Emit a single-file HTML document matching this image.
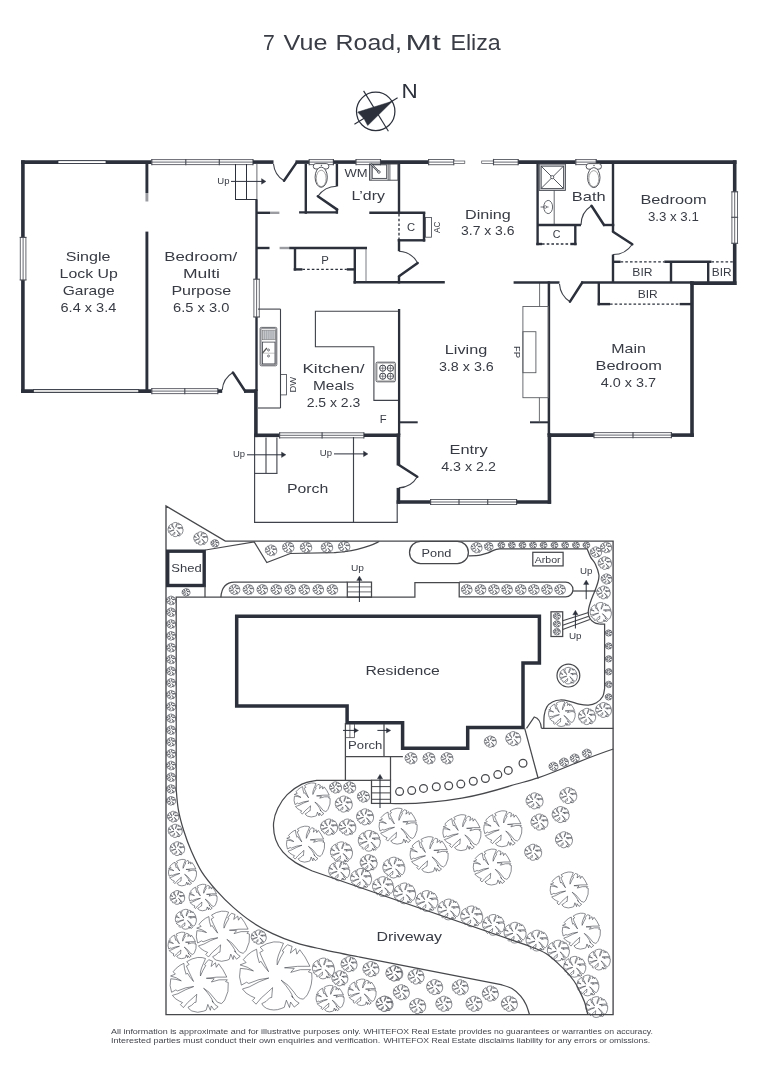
<!DOCTYPE html>
<html><head><meta charset="utf-8"><title>7 Vue Road, Mt Eliza</title>
<style>
html,body{margin:0;padding:0;background:#fff;}
body{width:764px;height:1080px;overflow:hidden;font-family:"Liberation Sans",sans-serif;}
svg{will-change:transform;display:block;font-family:"Liberation Sans",sans-serif;}
</style></head><body>
<svg width="764" height="1080" viewBox="0 0 764 1080">
<rect width="764" height="1080" fill="#fff"/>
<text x="263.0" y="49.6" font-size="22.2" fill="#3a3d46" textLength="11.8" lengthAdjust="spacingAndGlyphs" font-weight="normal">7</text>
<text x="283.6" y="49.6" font-size="22.2" fill="#3a3d46" textLength="43.8" lengthAdjust="spacingAndGlyphs" font-weight="normal">Vue</text>
<text x="335.6" y="49.6" font-size="22.2" fill="#3a3d46" textLength="66.4" lengthAdjust="spacingAndGlyphs" font-weight="normal">Road,</text>
<text x="405.6" y="49.6" font-size="22.2" fill="#3a3d46" textLength="35.2" lengthAdjust="spacingAndGlyphs" font-weight="normal">Mt</text>
<text x="450.4" y="49.6" font-size="22.2" fill="#3a3d46" textLength="50.4" lengthAdjust="spacingAndGlyphs" font-weight="normal">Eliza</text>
<circle cx="375.7" cy="111.4" r="19.2" stroke="#2b303b" stroke-width="1.25" fill="none"/>
<line x1="354.4" y1="124.3" x2="397.6" y2="97.7" stroke="#2b303b" stroke-width="1.15"/>
<line x1="363.6" y1="90.9" x2="388.4" y2="131.3" stroke="#2b303b" stroke-width="1.15"/>
<path d="M392.4 101.2 L357.7 112.1 L364.2 119.1 L367.7 125.6 Z" stroke="#2b303b" stroke-width="0.5" fill="#2b303b" />
<text x="401.6" y="97.8" font-size="20.6" fill="#2b303b" textLength="16.2" lengthAdjust="spacingAndGlyphs" font-weight="normal">N</text>
<defs>
<path id="t" d="M-0.422 -0.791Q-0.247 -0.907 -0.044 -0.936Q0.131 -0.945 0.224 -0.898Q0.160 -0.747 0.087 -0.573Q0.029 -0.427 0.049 -0.297Q0.131 -0.500 0.233 -0.660L0.189 -0.683Q0.276 -0.805 0.334 -0.858L0.465 -0.811L0.416 -0.625L0.567 -0.753L0.596 -0.596L0.677 -0.718Q0.828 -0.544 0.959 -0.259Q0.625 -0.276 0.253 -0.218L0.523 -0.201L0.427 -0.090Q0.683 -0.201 0.980 -0.166L0.916 -0.102L1.009 -0.073Q1.047 0.241 0.887 0.532Q0.828 0.619 0.770 0.654Q0.625 0.654 0.515 0.459Q0.363 0.241 0.160 0.125Q0.305 0.285 0.392 0.416Q0.465 0.517 0.485 0.613L0.451 0.561Q0.552 0.721 0.660 0.765L0.523 0.875L0.422 0.735L0.392 0.887L0.305 0.683L0.247 0.881L0.160 0.916Q-0.044 0.997 -0.247 0.910Q-0.349 0.858 -0.378 0.779Q-0.247 0.735 -0.160 0.619L-0.102 0.608Q-0.096 0.503 -0.078 0.334Q-0.160 0.416 -0.392 0.619L-0.538 0.794L-0.640 0.692L-0.567 0.619L-0.683 0.567Q-0.828 0.503 -0.916 0.372L-0.727 0.314Q-0.451 0.154 -0.183 0.067Q-0.451 0.081 -0.741 0.218L-0.799 0.183L-0.945 0.265Q-1.032 0.038 -0.974 -0.201Q-0.799 -0.195 -0.610 -0.131Q-0.770 -0.253 -0.980 -0.297L-0.814 -0.363L-0.892 -0.442Q-0.799 -0.573 -0.654 -0.666L-0.523 -0.733Q-0.515 -0.544 -0.445 -0.355L-0.404 -0.398Q-0.305 -0.238 -0.189 -0.108Q-0.276 -0.297 -0.340 -0.427Q-0.407 -0.573 -0.433 -0.642L-0.340 -0.695 Z" fill="#fff" stroke="#3d4048" stroke-width="0.6" vector-effect="non-scaling-stroke" stroke-linejoin="round"/>
</defs>
<use href="#t" transform="translate(234.5 589.5) scale(5.3)"/>
<use href="#t" transform="translate(248.4 589.5) scale(5.3)"/>
<use href="#t" transform="translate(262.2 589.5) scale(5.3)"/>
<use href="#t" transform="translate(276.2 589.5) scale(5.3)"/>
<use href="#t" transform="translate(290.1 589.5) scale(5.3)"/>
<use href="#t" transform="translate(304.2 589.5) scale(5.3)"/>
<use href="#t" transform="translate(318.2 589.5) scale(5.3)"/>
<use href="#t" transform="translate(332.3 589.5) scale(5.3)"/>
<use href="#t" transform="translate(466.7 589.5) scale(5.3)"/>
<use href="#t" transform="translate(480.5 589.5) scale(5.3)"/>
<use href="#t" transform="translate(493.9 589.5) scale(5.3)"/>
<use href="#t" transform="translate(507.0 589.5) scale(5.3)"/>
<use href="#t" transform="translate(520.7 589.5) scale(5.3)"/>
<use href="#t" transform="translate(533.8 589.5) scale(5.3)"/>
<use href="#t" transform="translate(546.9 589.5) scale(5.3)"/>
<use href="#t" transform="translate(560.0 589.5) scale(5.3)"/>
<use href="#t" transform="translate(476.5 547.6) scale(5.5)"/>
<use href="#t" transform="translate(488.7 546.5) scale(4.3)"/>
<use href="#t" transform="translate(501.3 545.1) scale(3.4)"/>
<use href="#t" transform="translate(511.8 545.1) scale(3.4)"/>
<use href="#t" transform="translate(522.4 545.1) scale(3.4)"/>
<use href="#t" transform="translate(533.0 545.1) scale(3.4)"/>
<use href="#t" transform="translate(543.5 545.1) scale(3.4)"/>
<use href="#t" transform="translate(554.4 545.1) scale(3.4)"/>
<use href="#t" transform="translate(565.1 545.1) scale(3.4)"/>
<use href="#t" transform="translate(575.9 545.1) scale(3.4)"/>
<use href="#t" transform="translate(586.3 545.1) scale(3.4)"/>
<use href="#t" transform="translate(606.0 547.4) scale(5.6)"/>
<use href="#t" transform="translate(595.9 552.1) scale(5.6)"/>
<use href="#t" transform="translate(604.8 563.0) scale(6.7)"/>
<use href="#t" transform="translate(606.5 578.9) scale(5.4)"/>
<use href="#t" transform="translate(603.4 592.4) scale(6.8)"/>
<use href="#t" transform="translate(600.7 612.4) scale(10.6)"/>
<use href="#t" transform="translate(608.6 633.0) scale(3.4)"/>
<use href="#t" transform="translate(608.6 646.0) scale(3.4)"/>
<use href="#t" transform="translate(608.6 658.8) scale(3.4)"/>
<use href="#t" transform="translate(608.6 671.7) scale(3.4)"/>
<use href="#t" transform="translate(608.6 684.4) scale(3.4)"/>
<use href="#t" transform="translate(608.6 696.9) scale(3.4)"/>
<use href="#t" transform="translate(603.5 709.9) scale(7.9)"/>
<use href="#t" transform="translate(587.0 716.4) scale(8.6)"/>
<use href="#t" transform="translate(561.8 713.8) scale(13.3)"/>
<use href="#t" transform="translate(568.4 675.6) scale(8.8)"/>
<use href="#t" transform="translate(556.8 616.2) scale(3.5)"/>
<use href="#t" transform="translate(556.8 623.9) scale(3.5)"/>
<use href="#t" transform="translate(556.8 631.6) scale(3.5)"/>
<use href="#t" transform="translate(175.5 529.5) scale(7.5)"/>
<use href="#t" transform="translate(200.7 538.3) scale(7.0)"/>
<use href="#t" transform="translate(214.8 543.3) scale(4.0)"/>
<use href="#t" transform="translate(271.0 550.3) scale(5.7)"/>
<use href="#t" transform="translate(288.2 547.4) scale(5.7)"/>
<use href="#t" transform="translate(306.0 547.4) scale(5.7)"/>
<use href="#t" transform="translate(326.9 547.4) scale(5.7)"/>
<use href="#t" transform="translate(344.1 546.5) scale(5.7)"/>
<use href="#t" transform="translate(186.0 592.3) scale(4.0)"/>
<use href="#t" transform="translate(171.0 600.4) scale(4.6)"/>
<use href="#t" transform="translate(171.0 612.2) scale(4.6)"/>
<use href="#t" transform="translate(171.0 624.0) scale(4.6)"/>
<use href="#t" transform="translate(171.0 635.8) scale(4.6)"/>
<use href="#t" transform="translate(171.0 647.6) scale(4.6)"/>
<use href="#t" transform="translate(171.0 659.4) scale(4.6)"/>
<use href="#t" transform="translate(171.0 671.1) scale(4.6)"/>
<use href="#t" transform="translate(171.0 682.9) scale(4.6)"/>
<use href="#t" transform="translate(171.0 694.7) scale(4.6)"/>
<use href="#t" transform="translate(171.0 706.5) scale(4.6)"/>
<use href="#t" transform="translate(171.0 718.3) scale(4.6)"/>
<use href="#t" transform="translate(171.0 730.1) scale(4.6)"/>
<use href="#t" transform="translate(171.0 741.9) scale(4.6)"/>
<use href="#t" transform="translate(171.0 753.7) scale(4.6)"/>
<use href="#t" transform="translate(171.0 765.5) scale(4.6)"/>
<use href="#t" transform="translate(171.0 777.2) scale(4.6)"/>
<use href="#t" transform="translate(171.0 789.0) scale(4.6)"/>
<use href="#t" transform="translate(171.0 800.8) scale(4.6)"/>
<use href="#t" transform="translate(411.0 758.2) scale(6.0)"/>
<use href="#t" transform="translate(429.0 758.2) scale(6.0)"/>
<use href="#t" transform="translate(447.0 758.2) scale(6.0)"/>
<use href="#t" transform="translate(490.3 741.6) scale(6.0)"/>
<use href="#t" transform="translate(513.2 738.6) scale(7.5)"/>
<use href="#t" transform="translate(553.4 766.4) scale(4.5)"/>
<use href="#t" transform="translate(563.9 762.2) scale(4.5)"/>
<use href="#t" transform="translate(574.7 758.2) scale(4.5)"/>
<use href="#t" transform="translate(586.8 753.3) scale(4.5)"/>
<use href="#t" transform="translate(312.0 799.8) scale(18.0)"/>
<use href="#t" transform="translate(305.4 844.0) scale(19.0)"/>
<use href="#t" transform="translate(398.0 826.0) scale(19.0)"/>
<use href="#t" transform="translate(429.0 854.5) scale(19.0)"/>
<use href="#t" transform="translate(461.8 832.5) scale(19.0)"/>
<use href="#t" transform="translate(502.7 828.6) scale(19.0)"/>
<use href="#t" transform="translate(492.2 866.9) scale(19.0)"/>
<use href="#t" transform="translate(569.1 889.8) scale(19.0)"/>
<use href="#t" transform="translate(581.2 931.0) scale(19.0)"/>
<use href="#t" transform="translate(335.5 787.4) scale(6.0)"/>
<use href="#t" transform="translate(349.6 787.4) scale(6.0)"/>
<use href="#t" transform="translate(363.4 796.5) scale(6.0)"/>
<use href="#t" transform="translate(343.7 804.0) scale(8.5)"/>
<use href="#t" transform="translate(365.0 816.8) scale(8.5)"/>
<use href="#t" transform="translate(329.0 827.0) scale(8.5)"/>
<use href="#t" transform="translate(347.3 827.0) scale(8.5)"/>
<use href="#t" transform="translate(369.2 840.7) scale(11.0)"/>
<use href="#t" transform="translate(341.4 852.2) scale(11.0)"/>
<use href="#t" transform="translate(368.6 862.6) scale(8.5)"/>
<use href="#t" transform="translate(339.1 870.8) scale(10.5)"/>
<use href="#t" transform="translate(361.0 878.3) scale(10.5)"/>
<use href="#t" transform="translate(383.0 886.5) scale(10.5)"/>
<use href="#t" transform="translate(393.8 867.5) scale(11.0)"/>
<use href="#t" transform="translate(534.5 800.8) scale(8.5)"/>
<use href="#t" transform="translate(568.2 795.5) scale(8.5)"/>
<use href="#t" transform="translate(539.4 822.0) scale(8.5)"/>
<use href="#t" transform="translate(560.6 814.5) scale(8.5)"/>
<use href="#t" transform="translate(563.9 839.7) scale(8.5)"/>
<use href="#t" transform="translate(533.1 852.2) scale(8.5)"/>
<use href="#t" transform="translate(404.5 893.3) scale(11.0)"/>
<use href="#t" transform="translate(426.8 900.9) scale(11.0)"/>
<use href="#t" transform="translate(448.7 909.4) scale(11.0)"/>
<use href="#t" transform="translate(471.6 916.3) scale(11.0)"/>
<use href="#t" transform="translate(493.5 924.8) scale(11.0)"/>
<use href="#t" transform="translate(515.0 932.6) scale(11.0)"/>
<use href="#t" transform="translate(537.0 940.5) scale(11.0)"/>
<use href="#t" transform="translate(558.3 950.5) scale(11.0)"/>
<use href="#t" transform="translate(574.7 966.7) scale(11.0)"/>
<use href="#t" transform="translate(587.8 985.4) scale(11.0)"/>
<use href="#t" transform="translate(596.6 1007.0) scale(11.0)"/>
<use href="#t" transform="translate(599.2 959.5) scale(11.0)"/>
<use href="#t" transform="translate(394.7 973.3) scale(8.0)"/>
<use href="#t" transform="translate(416.0 976.5) scale(8.0)"/>
<use href="#t" transform="translate(401.3 992.2) scale(8.0)"/>
<use href="#t" transform="translate(434.6 987.0) scale(8.0)"/>
<use href="#t" transform="translate(460.2 987.3) scale(8.0)"/>
<use href="#t" transform="translate(490.3 993.5) scale(8.0)"/>
<use href="#t" transform="translate(385.0 1003.7) scale(8.0)"/>
<use href="#t" transform="translate(417.6 1006.0) scale(8.0)"/>
<use href="#t" transform="translate(443.8 1003.7) scale(8.0)"/>
<use href="#t" transform="translate(474.0 1003.7) scale(8.0)"/>
<use href="#t" transform="translate(509.3 1003.7) scale(8.0)"/>
<use href="#t" transform="translate(370.9 969.0) scale(8.0)"/>
<use href="#t" transform="translate(384.0 1003.7) scale(8.0)"/>
<use href="#t" transform="translate(393.8 973.3) scale(8.0)"/>
<use href="#t" transform="translate(349.0 964.1) scale(8.0)"/>
<use href="#t" transform="translate(339.8 978.2) scale(8.0)"/>
<use href="#t" transform="translate(323.4 968.4) scale(11.0)"/>
<use href="#t" transform="translate(330.0 998.5) scale(14.0)"/>
<use href="#t" transform="translate(362.0 992.2) scale(14.0)"/>
<use href="#t" transform="translate(173.1 816.6) scale(5.7)"/>
<use href="#t" transform="translate(175.2 830.8) scale(7.0)"/>
<use href="#t" transform="translate(177.3 848.6) scale(7.3)"/>
<use href="#t" transform="translate(182.4 872.5) scale(14.0)"/>
<use href="#t" transform="translate(177.3 897.4) scale(7.3)"/>
<use href="#t" transform="translate(203.0 897.4) scale(14.0)"/>
<use href="#t" transform="translate(185.8 919.2) scale(10.5)"/>
<use href="#t" transform="translate(222.7 936.0) scale(26.5)"/>
<use href="#t" transform="translate(182.0 945.3) scale(14.0)"/>
<use href="#t" transform="translate(258.7 937.0) scale(7.5)"/>
<use href="#t" transform="translate(199.0 984.6) scale(29.0)"/>
<use href="#t" transform="translate(275.4 975.6) scale(36.0)"/>
<path d="M166 1014.6 L166 506 L225.3 541.1 L613.1 541.1 L613.1 1014.6 Z" stroke="#47484c" stroke-width="1.35" fill="none" />
<path d="M205.5 550 L254.2 542 L266.8 562.5 L290.3 553.5 L334.2 552.6L334.2 552.6C336.2 552.4 342.1 552.0 346.0 551.5C349.9 551.0 353.3 550.3 357.3 549.3C361.3 548.3 366.1 547.0 369.8 545.7C373.5 544.4 377.7 542.2 379.3 541.5" stroke="#47484c" stroke-width="1.25" fill="none" />
<rect x="167.7" y="551.2" width="36.5" height="34.3" rx="0" stroke="#2b303b" stroke-width="3.4" fill="#fff"/>
<text x="171.3" y="572.0" font-size="11.6" fill="#383b44" textLength="30.4" lengthAdjust="spacingAndGlyphs" font-weight="normal">Shed</text>
<path d="M205 586 L205 597.2" stroke="#47484c" stroke-width="1.25" fill="none" />
<path d="M176.2 789 L176.2 597.2 L414.9 597.2 L414.9 582.5 L459.4 582.5" stroke="#47484c" stroke-width="1.25" fill="none" />
<path d="M220.9 597.2 C221.5 588 226 582.3 234.5 582.1 L347.3 582.1" stroke="#47484c" stroke-width="1.25" fill="none" />
<rect x="347.3" y="582.1" width="24.2" height="15.1" rx="0" stroke="#47484c" stroke-width="1.25" fill="none"/>
<line x1="347.3" y1="586.9" x2="371.5" y2="586.9" stroke="#47484c" stroke-width="0.8"/>
<line x1="347.3" y1="591.9" x2="371.5" y2="591.9" stroke="#47484c" stroke-width="0.8"/>
<line x1="359.4" y1="602.0" x2="359.4" y2="579.0" stroke="#2b303b" stroke-width="1.0"/>
<path d="M356.7 580.5 L359.4 576 L362.1 580.5 Z" stroke="#2b303b" stroke-width="0.3" fill="#2b303b" />
<text x="351.0" y="571.3" font-size="9.2" fill="#383b44" textLength="13.0" lengthAdjust="spacingAndGlyphs" font-weight="normal">Up</text>
<path d="M459.2 582.2 L459.2 596.9 L565.6 596.9 A7.35 7.35 0 0 0 565.6 582.2 L459.2 582.2" stroke="#47484c" stroke-width="1.25" fill="none" />
<line x1="573.0" y1="591.0" x2="596.0" y2="591.0" stroke="#47484c" stroke-width="1.25"/>
<line x1="586.2" y1="599.2" x2="586.2" y2="583.0" stroke="#2b303b" stroke-width="1.0"/>
<path d="M583.5 584.5 L586.2 580 L588.9 584.5 Z" stroke="#2b303b" stroke-width="0.3" fill="#2b303b" />
<text x="580.0" y="574.2" font-size="9.2" fill="#383b44" textLength="12.4" lengthAdjust="spacingAndGlyphs" font-weight="normal">Up</text>
<rect x="409.5" y="541.3" width="58.9" height="22.2" rx="11.1" stroke="#47484c" stroke-width="1.25" fill="#fff"/>
<text x="421.6" y="556.6" font-size="11.6" fill="#383b44" textLength="29.7" lengthAdjust="spacingAndGlyphs" font-weight="normal">Pond</text>
<rect x="532.8" y="552.3" width="30.3" height="13.6" rx="0" stroke="#47484c" stroke-width="1.25" fill="#fff"/>
<text x="534.8" y="562.9" font-size="8.8" fill="#383b44" textLength="25.8" lengthAdjust="spacingAndGlyphs" font-weight="normal">Arbor</text>
<path d="M468.5 555.9C470.4 555.8 476.9 555.6 480.1 555.1C483.4 554.6 485.6 553.6 488.0 552.8C490.4 552.0 492.1 550.8 494.2 550.1C496.3 549.4 499.4 549.0 500.5 548.8L587.1 548.8L587.1 548.8C587.7 550.2 589.2 554.5 590.6 557.1C592.0 559.7 594.0 561.2 595.4 564.2C596.8 567.2 598.5 571.7 598.9 574.8C599.3 577.9 598.5 580.1 597.7 583.0C596.9 585.9 595.4 589.3 594.2 592.4C593.0 595.5 591.6 598.6 590.6 601.8C589.6 604.9 588.5 608.6 588.3 611.3C588.1 613.9 588.5 615.8 589.5 617.7C590.5 619.6 592.6 621.5 594.2 622.5C595.8 623.5 597.2 623.7 598.9 624.0C600.6 624.3 603.6 624.2 604.6 624.2L604.6 688.7L604.6 688.7C604.3 690.0 604.1 694.1 602.7 696.5C601.3 698.9 598.8 701.3 596.4 702.8C594.0 704.2 591.4 705.0 588.5 705.2C585.6 705.4 582.2 704.8 579.1 704.1C576.0 703.5 572.8 702.0 569.7 701.3C566.6 700.6 563.2 699.9 560.3 700.0C557.4 700.1 554.6 700.9 552.4 702.0C550.2 703.1 548.3 704.6 546.9 706.8C545.5 709.0 544.7 711.8 544.2 715.4C543.7 719.0 543.9 726.1 543.8 728.3" stroke="#47484c" stroke-width="1.25" fill="none" />
<line x1="541.4" y1="728.3" x2="613.3" y2="728.3" stroke="#47484c" stroke-width="1.25"/>
<circle cx="568.4" cy="675.6" r="11.4" stroke="#47484c" stroke-width="1.2" fill="none"/>
<rect x="551.0" y="611.8" width="11.7" height="24.7" rx="0" stroke="#47484c" stroke-width="1.25" fill="none"/>
<line x1="562.7" y1="620.7" x2="588.5" y2="612.4" stroke="#47484c" stroke-width="1.1"/>
<line x1="562.7" y1="625.2" x2="588.8" y2="616.3" stroke="#47484c" stroke-width="1.1"/>
<line x1="562.7" y1="629.5" x2="589.8" y2="619.6" stroke="#47484c" stroke-width="1.1"/>
<line x1="575.4" y1="628.5" x2="575.4" y2="613.0" stroke="#2b303b" stroke-width="1.0"/>
<path d="M572.7 614.8 L575.4 610.2 L578.1 614.8 Z" stroke="#2b303b" stroke-width="0.3" fill="#2b303b" />
<text x="568.9" y="638.7" font-size="9.2" fill="#383b44" textLength="12.6" lengthAdjust="spacingAndGlyphs" font-weight="normal">Up</text>
<path d="M236.7 616.3 L539.4 616.3 L539.4 663 L523 663 L523 727.5 L467.7 727.5 L467.7 748.3 L402.6 748.3 L402.6 722.8 L347.1 722.8 L347.1 706 L236.7 706 Z" stroke="#2b303b" stroke-width="3.5" fill="#fff" stroke-linejoin="miter"/>
<text x="365.4" y="674.8" font-size="13.2" fill="#383b44" textLength="74.4" lengthAdjust="spacingAndGlyphs" font-weight="normal">Residence</text>
<path d="M345.4 723 L345.4 780.2 M345.4 756.6 L402.9 756.6 M384 724 L384 756.6 M390.5 756.6 L390.5 780.2" stroke="#47484c" stroke-width="1.25" fill="none" />
<text x="348.1" y="749.4" font-size="10.2" fill="#383b44" textLength="34.3" lengthAdjust="spacingAndGlyphs" font-weight="normal">Porch</text>
<path d="M349.9 724 L349.9 737.6 M354.5 724 L354.5 737.6 M345.4 737.6 L354.5 737.6" stroke="#47484c" stroke-width="0.8" fill="none" />
<line x1="343.0" y1="730.4" x2="355.0" y2="730.4" stroke="#2b303b" stroke-width="1.0"/>
<path d="M354.2 727.9 L358.6 730.4 L354.2 732.9 Z" stroke="#2b303b" stroke-width="0.3" fill="#2b303b" />
<line x1="377.4" y1="730.4" x2="387.0" y2="730.4" stroke="#2b303b" stroke-width="1.0"/>
<path d="M386.4 727.9 L390.8 730.4 L386.4 732.9 Z" stroke="#2b303b" stroke-width="0.3" fill="#2b303b" />
<rect x="371.5" y="780.2" width="19.0" height="23.2" rx="0" stroke="#47484c" stroke-width="1.25" fill="#fff"/>
<line x1="371.5" y1="786.6" x2="390.5" y2="786.6" stroke="#47484c" stroke-width="1.0"/>
<line x1="371.5" y1="792.9" x2="390.5" y2="792.9" stroke="#47484c" stroke-width="1.0"/>
<line x1="371.5" y1="799.3" x2="390.5" y2="799.3" stroke="#47484c" stroke-width="1.0"/>
<line x1="380.0" y1="808.0" x2="380.0" y2="777.0" stroke="#2b303b" stroke-width="1.0"/>
<path d="M377.3 778.8 L380 774.3 L382.7 778.8 Z" stroke="#2b303b" stroke-width="0.3" fill="#2b303b" />
<path d="M524.7 728.3 L538.2 778.5" stroke="#47484c" stroke-width="1.25" fill="none" />
<path d="M526.5 728.3 L534.3 717 Q540.5 718.5 541.4 728.3" stroke="#47484c" stroke-width="1.25" fill="none" />
<path d="M390.5 803.5 C420 804.5 440 802 461.8 798.2 C480 795 497 790 510.9 785.7 C520 783 530 780.5 538 777.9 C552 773 565 767.5 576.3 762.8 C590 757.3 602 752.8 613.3 749" stroke="#47484c" stroke-width="1.25" fill="none" />
<path d="M371.5 780.3 L316.5 780.3L316.5 780.3C314.1 780.9 306.8 781.7 301.9 784.1C297.0 786.5 291.2 790.6 287.2 794.6C283.2 798.6 280.1 803.5 277.8 808.2C275.5 812.9 274.0 817.6 273.6 822.8C273.2 828.0 274.1 834.7 275.7 839.6C277.3 844.5 279.7 848.3 283.0 852.1C286.3 855.9 290.7 859.5 295.6 862.6C300.5 865.8 309.6 869.6 312.4 871.0L527.3 945.4L527.3 945.4C530.4 946.8 540.0 949.7 546.0 953.5C552.0 957.3 558.5 963.8 563.2 968.4C567.9 973.0 571.3 977.2 574.0 981.0C576.7 984.8 577.9 987.8 579.6 991.3C581.4 994.8 583.1 998.1 584.5 1002.0C585.9 1005.9 587.2 1012.5 587.8 1014.6" stroke="#47484c" stroke-width="1.25" fill="none" />
<path d="M176.2 789.0C176.5 792.4 177.1 802.4 178.3 809.3C179.5 816.2 181.4 823.2 183.6 830.2C185.8 837.2 188.3 844.2 191.4 851.2C194.5 858.2 197.8 865.6 201.9 872.1C206.1 878.6 211.1 884.5 216.3 890.4C221.5 896.3 227.4 902.2 233.3 907.4C239.2 912.6 245.0 917.4 251.6 921.8C258.1 926.2 265.2 930.1 272.6 933.6C280.0 937.1 287.8 940.2 296.1 942.8C304.4 945.4 311.7 946.9 322.3 949.3C332.9 951.7 353.7 955.9 360.0 957.2L501 984.7L501.0 984.7C502.8 985.3 508.7 986.6 512.0 988.5C515.3 990.4 518.4 993.5 520.7 996.2C523.0 998.9 524.5 1001.4 526.0 1004.5C527.5 1007.6 528.9 1012.9 529.5 1014.6" stroke="#47484c" stroke-width="1.25" fill="none" />
<text x="376.4" y="941.3" font-size="13.2" fill="#383b44" textLength="65.6" lengthAdjust="spacingAndGlyphs" font-weight="normal">Driveway</text>
<circle cx="399.6" cy="791.6" r="3.9" stroke="#47484c" stroke-width="1.25" fill="#fff"/>
<circle cx="411.7" cy="790.6" r="3.9" stroke="#47484c" stroke-width="1.25" fill="#fff"/>
<circle cx="423.5" cy="788.4" r="3.9" stroke="#47484c" stroke-width="1.25" fill="#fff"/>
<circle cx="436.3" cy="786.7" r="3.9" stroke="#47484c" stroke-width="1.25" fill="#fff"/>
<circle cx="448.7" cy="785.7" r="3.9" stroke="#47484c" stroke-width="1.25" fill="#fff"/>
<circle cx="460.8" cy="784.1" r="3.9" stroke="#47484c" stroke-width="1.25" fill="#fff"/>
<circle cx="473.3" cy="781.2" r="3.9" stroke="#47484c" stroke-width="1.25" fill="#fff"/>
<circle cx="485.4" cy="778.5" r="3.9" stroke="#47484c" stroke-width="1.25" fill="#fff"/>
<circle cx="497.8" cy="774.6" r="3.9" stroke="#47484c" stroke-width="1.25" fill="#fff"/>
<circle cx="508.3" cy="770.4" r="3.9" stroke="#47484c" stroke-width="1.25" fill="#fff"/>
<circle cx="523.0" cy="763.2" r="3.9" stroke="#47484c" stroke-width="1.25" fill="#fff"/>
<line x1="21.1" y1="162.1" x2="151.8" y2="162.1" stroke="#2b303b" stroke-width="3.6" stroke-linecap="butt"/>
<line x1="22.9" y1="160.3" x2="22.9" y2="392.9" stroke="#2b303b" stroke-width="3.6" stroke-linecap="butt"/>
<line x1="21.1" y1="391.1" x2="151.8" y2="391.1" stroke="#2b303b" stroke-width="3.6" stroke-linecap="butt"/>
<rect x="58.0" y="160.7" width="48.0" height="2.8" rx="0" stroke="#2b303b" stroke-width="0.8" fill="#fff"/>
<rect x="33.5" y="389.6" width="105.2" height="3.0" rx="0" stroke="#2b303b" stroke-width="0.8" fill="#fff"/>
<line x1="33.5" y1="391.1" x2="138.7" y2="391.1" stroke="#777" stroke-width="0.5"/>
<rect x="20.3" y="237.4" width="5.6" height="42.6" fill="#fff" stroke="none"/>
<line x1="20.3" y1="237.4" x2="20.3" y2="280.0" stroke="#4a4d55" stroke-width="0.85"/>
<line x1="23.1" y1="237.4" x2="23.1" y2="280.0" stroke="#4a4d55" stroke-width="0.85"/>
<line x1="25.9" y1="237.4" x2="25.9" y2="280.0" stroke="#4a4d55" stroke-width="0.85"/>
<line x1="19.7" y1="237.4" x2="26.5" y2="237.4" stroke="#4a4d55" stroke-width="1.15"/>
<line x1="19.7" y1="280.0" x2="26.5" y2="280.0" stroke="#4a4d55" stroke-width="1.15"/>
<line x1="146.9" y1="164.0" x2="146.9" y2="193.0" stroke="#2b303b" stroke-width="2.9" stroke-linecap="butt"/>
<line x1="146.9" y1="193.0" x2="146.9" y2="201.5" stroke="#9a9ca2" stroke-width="2.9" stroke-linecap="butt"/>
<line x1="146.9" y1="231.6" x2="146.9" y2="391.0" stroke="#2b303b" stroke-width="2.9" stroke-linecap="butt"/>
<rect x="151.8" y="159.6" width="101.2" height="5.0" fill="#fff" stroke="none"/>
<line x1="151.8" y1="159.6" x2="253.0" y2="159.6" stroke="#4a4d55" stroke-width="0.85"/>
<line x1="151.8" y1="162.1" x2="253.0" y2="162.1" stroke="#4a4d55" stroke-width="0.85"/>
<line x1="151.8" y1="164.6" x2="253.0" y2="164.6" stroke="#4a4d55" stroke-width="0.85"/>
<line x1="151.8" y1="159.0" x2="151.8" y2="165.2" stroke="#4a4d55" stroke-width="1.15"/>
<line x1="253.0" y1="159.0" x2="253.0" y2="165.2" stroke="#4a4d55" stroke-width="1.15"/>
<line x1="185.8" y1="159.0" x2="185.8" y2="165.2" stroke="#4a4d55" stroke-width="1.15"/>
<line x1="219.3" y1="159.0" x2="219.3" y2="165.2" stroke="#4a4d55" stroke-width="1.15"/>
<rect x="151.8" y="388.6" width="66.0" height="5.0" fill="#fff" stroke="none"/>
<line x1="151.8" y1="388.6" x2="217.8" y2="388.6" stroke="#4a4d55" stroke-width="0.85"/>
<line x1="151.8" y1="391.1" x2="217.8" y2="391.1" stroke="#4a4d55" stroke-width="0.85"/>
<line x1="151.8" y1="393.6" x2="217.8" y2="393.6" stroke="#4a4d55" stroke-width="0.85"/>
<line x1="151.8" y1="388.0" x2="151.8" y2="394.2" stroke="#4a4d55" stroke-width="1.15"/>
<line x1="217.8" y1="388.0" x2="217.8" y2="394.2" stroke="#4a4d55" stroke-width="1.15"/>
<line x1="184.8" y1="388.0" x2="184.8" y2="394.2" stroke="#4a4d55" stroke-width="1.15"/>
<line x1="217.8" y1="391.1" x2="222.2" y2="391.1" stroke="#2b303b" stroke-width="3.6" stroke-linecap="butt"/>
<path d="M232.9 372.5 A22.5 22.5 0 0 0 222.2 390.0" stroke="#3f424a" stroke-width="1.1" fill="none" />
<line x1="245.2" y1="391.3" x2="232.9" y2="372.5" stroke="#2b303b" stroke-width="2.5" stroke-linecap="round"/>
<line x1="244.0" y1="391.1" x2="256.4" y2="391.1" stroke="#2b303b" stroke-width="3.6" stroke-linecap="butt"/>
<line x1="253.0" y1="162.1" x2="273.5" y2="162.1" stroke="#2b303b" stroke-width="3.6" stroke-linecap="butt"/>
<path d="M284.0 180.8 A22.1 22.1 0 0 1 273.5 164.0" stroke="#3f424a" stroke-width="1.1" fill="none" />
<line x1="296.5" y1="162.6" x2="284.0" y2="180.8" stroke="#2b303b" stroke-width="2.5" stroke-linecap="round"/>
<line x1="295.5" y1="162.1" x2="309.2" y2="162.1" stroke="#2b303b" stroke-width="3.6" stroke-linecap="butt"/>
<rect x="309.2" y="159.6" width="24.2" height="5.0" fill="#fff" stroke="none"/>
<line x1="309.2" y1="159.6" x2="333.4" y2="159.6" stroke="#4a4d55" stroke-width="0.85"/>
<line x1="309.2" y1="162.1" x2="333.4" y2="162.1" stroke="#4a4d55" stroke-width="0.85"/>
<line x1="309.2" y1="164.6" x2="333.4" y2="164.6" stroke="#4a4d55" stroke-width="0.85"/>
<line x1="309.2" y1="159.0" x2="309.2" y2="165.2" stroke="#4a4d55" stroke-width="1.15"/>
<line x1="333.4" y1="159.0" x2="333.4" y2="165.2" stroke="#4a4d55" stroke-width="1.15"/>
<line x1="333.4" y1="162.1" x2="356.0" y2="162.1" stroke="#2b303b" stroke-width="3.6" stroke-linecap="butt"/>
<rect x="356.0" y="159.6" width="24.5" height="5.0" fill="#fff" stroke="none"/>
<line x1="356.0" y1="159.6" x2="380.5" y2="159.6" stroke="#4a4d55" stroke-width="0.85"/>
<line x1="356.0" y1="162.1" x2="380.5" y2="162.1" stroke="#4a4d55" stroke-width="0.85"/>
<line x1="356.0" y1="164.6" x2="380.5" y2="164.6" stroke="#4a4d55" stroke-width="0.85"/>
<line x1="356.0" y1="159.0" x2="356.0" y2="165.2" stroke="#4a4d55" stroke-width="1.15"/>
<line x1="380.5" y1="159.0" x2="380.5" y2="165.2" stroke="#4a4d55" stroke-width="1.15"/>
<line x1="380.5" y1="162.1" x2="428.6" y2="162.1" stroke="#2b303b" stroke-width="3.6" stroke-linecap="butt"/>
<rect x="428.6" y="159.5" width="25.2" height="5.2" fill="#fff" stroke="none"/>
<line x1="428.6" y1="159.5" x2="453.8" y2="159.5" stroke="#4a4d55" stroke-width="0.85"/>
<line x1="428.6" y1="162.1" x2="453.8" y2="162.1" stroke="#4a4d55" stroke-width="0.85"/>
<line x1="428.6" y1="164.7" x2="453.8" y2="164.7" stroke="#4a4d55" stroke-width="0.85"/>
<line x1="428.6" y1="158.9" x2="428.6" y2="165.3" stroke="#4a4d55" stroke-width="1.15"/>
<line x1="453.8" y1="158.9" x2="453.8" y2="165.3" stroke="#4a4d55" stroke-width="1.15"/>
<rect x="453.8" y="161.0" width="11.0" height="2.6" rx="0" stroke="#4a4d55" stroke-width="0.7" fill="#fff"/>
<rect x="481.7" y="161.0" width="11.8" height="2.6" rx="0" stroke="#4a4d55" stroke-width="0.7" fill="#fff"/>
<rect x="493.5" y="159.5" width="24.7" height="5.2" fill="#fff" stroke="none"/>
<line x1="493.5" y1="159.5" x2="518.2" y2="159.5" stroke="#4a4d55" stroke-width="0.85"/>
<line x1="493.5" y1="162.1" x2="518.2" y2="162.1" stroke="#4a4d55" stroke-width="0.85"/>
<line x1="493.5" y1="164.7" x2="518.2" y2="164.7" stroke="#4a4d55" stroke-width="0.85"/>
<line x1="493.5" y1="158.9" x2="493.5" y2="165.3" stroke="#4a4d55" stroke-width="1.15"/>
<line x1="518.2" y1="158.9" x2="518.2" y2="165.3" stroke="#4a4d55" stroke-width="1.15"/>
<line x1="518.2" y1="162.1" x2="575.8" y2="162.1" stroke="#2b303b" stroke-width="3.6" stroke-linecap="butt"/>
<rect x="575.8" y="159.6" width="20.4" height="5.0" fill="#fff" stroke="none"/>
<line x1="575.8" y1="159.6" x2="596.2" y2="159.6" stroke="#4a4d55" stroke-width="0.85"/>
<line x1="575.8" y1="162.1" x2="596.2" y2="162.1" stroke="#4a4d55" stroke-width="0.85"/>
<line x1="575.8" y1="164.6" x2="596.2" y2="164.6" stroke="#4a4d55" stroke-width="0.85"/>
<line x1="575.8" y1="159.0" x2="575.8" y2="165.2" stroke="#4a4d55" stroke-width="1.15"/>
<line x1="596.2" y1="159.0" x2="596.2" y2="165.2" stroke="#4a4d55" stroke-width="1.15"/>
<line x1="596.2" y1="162.1" x2="736.5" y2="162.1" stroke="#2b303b" stroke-width="3.6" stroke-linecap="butt"/>
<line x1="734.7" y1="160.3" x2="734.7" y2="285.0" stroke="#2b303b" stroke-width="3.6" stroke-linecap="butt"/>
<rect x="731.9" y="191.8" width="5.6" height="51.5" fill="#fff" stroke="none"/>
<line x1="731.9" y1="191.8" x2="731.9" y2="243.3" stroke="#4a4d55" stroke-width="0.85"/>
<line x1="734.7" y1="191.8" x2="734.7" y2="243.3" stroke="#4a4d55" stroke-width="0.85"/>
<line x1="737.5" y1="191.8" x2="737.5" y2="243.3" stroke="#4a4d55" stroke-width="0.85"/>
<line x1="731.3" y1="191.8" x2="738.1" y2="191.8" stroke="#4a4d55" stroke-width="1.15"/>
<line x1="731.3" y1="243.3" x2="738.1" y2="243.3" stroke="#4a4d55" stroke-width="1.15"/>
<line x1="731.3" y1="217.3" x2="738.1" y2="217.3" stroke="#4a4d55" stroke-width="1.15"/>
<line x1="235.5" y1="164.0" x2="235.5" y2="199.5" stroke="#2b303b" stroke-width="1.0"/>
<line x1="246.5" y1="164.0" x2="246.5" y2="199.5" stroke="#2b303b" stroke-width="1.0"/>
<line x1="256.9" y1="164.0" x2="256.9" y2="199.5" stroke="#6a6c72" stroke-width="1.0"/>
<line x1="235.0" y1="199.5" x2="257.0" y2="199.5" stroke="#2b303b" stroke-width="1.0"/>
<line x1="231.0" y1="181.4" x2="262.0" y2="181.4" stroke="#2b303b" stroke-width="1.0"/>
<path d="M261.5 178.6 L266 181.4 L261.5 184.2 Z" stroke="#2b303b" stroke-width="0.3" fill="#2b303b" />
<text x="217.3" y="183.9" font-size="9.4" fill="#383b44" textLength="12.2" lengthAdjust="spacingAndGlyphs" font-weight="normal">Up</text>
<line x1="256.5" y1="199.3" x2="256.5" y2="391.0" stroke="#2b303b" stroke-width="2.4" stroke-linecap="butt"/>
<line x1="255.9" y1="389.4" x2="255.9" y2="437.1" stroke="#2b303b" stroke-width="3.6" stroke-linecap="butt"/>
<rect x="253.9" y="279.2" width="5.4" height="37.8" fill="#fff" stroke="none"/>
<line x1="253.9" y1="279.2" x2="253.9" y2="317.0" stroke="#4a4d55" stroke-width="0.85"/>
<line x1="256.6" y1="279.2" x2="256.6" y2="317.0" stroke="#4a4d55" stroke-width="0.85"/>
<line x1="259.3" y1="279.2" x2="259.3" y2="317.0" stroke="#4a4d55" stroke-width="0.85"/>
<line x1="253.3" y1="279.2" x2="259.9" y2="279.2" stroke="#4a4d55" stroke-width="1.15"/>
<line x1="253.3" y1="317.0" x2="259.9" y2="317.0" stroke="#4a4d55" stroke-width="1.15"/>
<line x1="256.0" y1="212.8" x2="270.0" y2="212.8" stroke="#2b303b" stroke-width="2.4" stroke-linecap="butt"/>
<line x1="270.0" y1="212.8" x2="279.4" y2="212.8" stroke="#9a9ca2" stroke-width="2.4" stroke-linecap="butt"/>
<line x1="256.0" y1="248.0" x2="269.5" y2="248.0" stroke="#2b303b" stroke-width="2.4" stroke-linecap="butt"/>
<line x1="279.6" y1="248.0" x2="289.2" y2="248.0" stroke="#9a9ca2" stroke-width="2.4" stroke-linecap="butt"/>
<line x1="289.2" y1="248.0" x2="367.0" y2="248.0" stroke="#2b303b" stroke-width="2.4" stroke-linecap="butt"/>
<line x1="305.8" y1="164.0" x2="305.8" y2="213.8" stroke="#2b303b" stroke-width="2.4" stroke-linecap="butt"/>
<line x1="299.1" y1="212.4" x2="338.0" y2="212.4" stroke="#2b303b" stroke-width="2.4" stroke-linecap="butt"/>
<line x1="336.9" y1="164.0" x2="336.9" y2="186.4" stroke="#2b303b" stroke-width="2.4" stroke-linecap="butt"/>
<line x1="336.9" y1="208.5" x2="336.9" y2="213.6" stroke="#2b303b" stroke-width="2.4" stroke-linecap="butt"/>
<path d="M317.8 196.3 A23.5 23.5 0 0 1 336.6 186.2" stroke="#3f424a" stroke-width="1.1" fill="none" />
<line x1="337.2" y1="209.6" x2="317.8" y2="196.3" stroke="#2b303b" stroke-width="2.5" stroke-linecap="round"/>
<rect x="313.3" y="163.6" width="15.6" height="5.4" rx="2.6" stroke="#3f424a" stroke-width="0.9" fill="#fff"/>
<ellipse cx="321.2" cy="177.2" rx="6.1" ry="10.1" stroke="#3f424a" stroke-width="0.9" fill="#fff"/>
<ellipse cx="321.2" cy="178.4" rx="4.9" ry="8.2" stroke="#666" stroke-width="0.6" fill="none"/>
<circle cx="321.4" cy="165.4" r="0.5" stroke="#3f424a" stroke-width="0.3" fill="#3f424a"/>
<line x1="399.0" y1="164.0" x2="399.0" y2="213.8" stroke="#2b303b" stroke-width="2.4" stroke-linecap="butt"/>
<line x1="369.3" y1="212.8" x2="425.3" y2="212.8" stroke="#2b303b" stroke-width="2.4" stroke-linecap="butt"/>
<line x1="424.0" y1="212.5" x2="424.0" y2="241.6" stroke="#2b303b" stroke-width="2.4" stroke-linecap="butt"/>
<line x1="397.7" y1="240.3" x2="425.3" y2="240.3" stroke="#2b303b" stroke-width="2.4" stroke-linecap="butt"/>
<line x1="399.0" y1="214.0" x2="399.0" y2="239.0" stroke="#2b303b" stroke-width="1.3" stroke-dasharray="2.6 2.1"/>
<line x1="399.0" y1="239.0" x2="399.0" y2="251.2" stroke="#2b303b" stroke-width="2.4" stroke-linecap="butt"/>
<path d="M417.7 263.0 A22.9 22.9 0 0 0 399.0 251.2" stroke="#3f424a" stroke-width="1.1" fill="none" />
<line x1="399.0" y1="276.3" x2="417.7" y2="263.0" stroke="#2b303b" stroke-width="2.5" stroke-linecap="round"/>
<line x1="399.0" y1="276.0" x2="399.0" y2="283.6" stroke="#2b303b" stroke-width="2.4" stroke-linecap="butt"/>
<rect x="369.5" y="164.0" width="28.5" height="16.2" rx="0" stroke="#3f424a" stroke-width="0.9" fill="none"/>
<line x1="371.0" y1="164.0" x2="371.0" y2="180.2" stroke="#3f424a" stroke-width="0.7"/>
<rect x="372.2" y="164.8" width="14.5" height="13.6" rx="0" stroke="#3f424a" stroke-width="0.9" fill="none"/>
<line x1="388.2" y1="164.0" x2="388.2" y2="180.2" stroke="#3f424a" stroke-width="0.8"/>
<line x1="389.9" y1="164.0" x2="389.9" y2="180.2" stroke="#3f424a" stroke-width="0.8"/>
<path d="M370.9 163.9 L378.4 171.5" stroke="#3d4048" stroke-width="1.9" fill="none" />
<path d="M371.3 164.3 L378 171.1" stroke="#c8cacd" stroke-width="0.8" fill="none" />
<circle cx="378.9" cy="172.0" r="1.3" stroke="#3f424a" stroke-width="0.8" fill="#fff"/>
<rect x="425.5" y="217.5" width="6.0" height="19.7" rx="0" stroke="#3f424a" stroke-width="0.8" fill="none"/>
<line x1="295.0" y1="248.0" x2="295.0" y2="270.6" stroke="#2b303b" stroke-width="2.4" stroke-linecap="butt"/>
<line x1="293.7" y1="269.4" x2="302.4" y2="269.4" stroke="#2b303b" stroke-width="2.4" stroke-linecap="butt"/>
<line x1="302.4" y1="269.4" x2="346.8" y2="269.4" stroke="#2b303b" stroke-width="1.3" stroke-dasharray="2.6 2.1"/>
<line x1="346.8" y1="269.4" x2="356.0" y2="269.4" stroke="#2b303b" stroke-width="2.4" stroke-linecap="butt"/>
<line x1="354.8" y1="248.0" x2="354.8" y2="283.6" stroke="#2b303b" stroke-width="2.4" stroke-linecap="butt"/>
<line x1="353.5" y1="282.3" x2="444.8" y2="282.3" stroke="#2b303b" stroke-width="2.4" stroke-linecap="butt"/>
<line x1="366.0" y1="248.0" x2="366.0" y2="282.3" stroke="#3f424a" stroke-width="0.7"/>
<line x1="254.1" y1="435.3" x2="279.6" y2="435.3" stroke="#2b303b" stroke-width="3.6" stroke-linecap="butt"/>
<rect x="279.6" y="432.8" width="84.3" height="5.0" fill="#fff" stroke="none"/>
<line x1="279.6" y1="432.8" x2="363.9" y2="432.8" stroke="#4a4d55" stroke-width="0.85"/>
<line x1="279.6" y1="435.3" x2="363.9" y2="435.3" stroke="#4a4d55" stroke-width="0.85"/>
<line x1="279.6" y1="437.8" x2="363.9" y2="437.8" stroke="#4a4d55" stroke-width="0.85"/>
<line x1="279.6" y1="432.2" x2="279.6" y2="438.4" stroke="#4a4d55" stroke-width="1.15"/>
<line x1="363.9" y1="432.2" x2="363.9" y2="438.4" stroke="#4a4d55" stroke-width="1.15"/>
<line x1="322.1" y1="432.2" x2="322.1" y2="438.4" stroke="#4a4d55" stroke-width="1.15"/>
<line x1="363.9" y1="435.3" x2="400.2" y2="435.3" stroke="#2b303b" stroke-width="3.6" stroke-linecap="butt"/>
<line x1="399.1" y1="309.0" x2="399.1" y2="435.0" stroke="#2b303b" stroke-width="2.3" stroke-linecap="butt"/>
<line x1="398.4" y1="433.6" x2="398.4" y2="465.4" stroke="#2b303b" stroke-width="3.6" stroke-linecap="butt"/>
<line x1="258.0" y1="309.1" x2="280.5" y2="309.1" stroke="#3f424a" stroke-width="1.1"/>
<line x1="280.5" y1="309.1" x2="280.5" y2="408.0" stroke="#3f424a" stroke-width="1.1"/>
<line x1="258.0" y1="408.0" x2="280.5" y2="408.0" stroke="#3f424a" stroke-width="1.1"/>
<rect x="260.1" y="327.4" width="16.7" height="38.4" rx="1.2" stroke="#3f424a" stroke-width="0.8" fill="#fff"/>
<rect x="261.1" y="328.4" width="14.7" height="36.4" rx="0.8" stroke="#3f424a" stroke-width="0.6" fill="none"/>
<rect x="262.3" y="330.1" width="13.0" height="9.7" rx="0" stroke="#666" stroke-width="0.5" fill="#c4c6ca"/>
<line x1="264.5" y1="330.1" x2="264.5" y2="339.8" stroke="#8d9096" stroke-width="0.5"/>
<line x1="266.6" y1="330.1" x2="266.6" y2="339.8" stroke="#8d9096" stroke-width="0.5"/>
<line x1="268.8" y1="330.1" x2="268.8" y2="339.8" stroke="#8d9096" stroke-width="0.5"/>
<line x1="271.0" y1="330.1" x2="271.0" y2="339.8" stroke="#8d9096" stroke-width="0.5"/>
<line x1="273.1" y1="330.1" x2="273.1" y2="339.8" stroke="#8d9096" stroke-width="0.5"/>
<rect x="262.5" y="342.1" width="12.5" height="21.8" rx="0" stroke="#3f424a" stroke-width="0.8" fill="none"/>
<line x1="262.5" y1="353.2" x2="275.0" y2="353.2" stroke="#888" stroke-width="0.5"/>
<path d="M262.2 353.4 L266.9 348" stroke="#555" stroke-width="1.3" fill="none" />
<circle cx="268.5" cy="350.0" r="1.0" stroke="#3f424a" stroke-width="0.7" fill="#fff"/>
<circle cx="268.5" cy="356.0" r="1.0" stroke="#3f424a" stroke-width="0.7" fill="#fff"/>
<rect x="280.6" y="374.4" width="5.8" height="20.5" rx="0" stroke="#3f424a" stroke-width="0.8" fill="none"/>
<path d="M398 311.2 L315.4 311.2 L315.4 346.8 L373.9 346.8 L373.9 400.4 L398 400.4" stroke="#3f424a" stroke-width="1.1" fill="none" />
<rect x="376.1" y="362.2" width="19.2" height="19.6" rx="1.2" stroke="#3f424a" stroke-width="0.9" fill="#fff"/>
<rect x="377.2" y="363.3" width="17.0" height="17.4" rx="0.8" stroke="#777" stroke-width="0.5" fill="none"/>
<circle cx="382.7" cy="368.2" r="3.1" stroke="#3f424a" stroke-width="1.0" fill="#fff"/>
<line x1="379.6" y1="368.2" x2="385.8" y2="368.2" stroke="#3f424a" stroke-width="0.6"/>
<line x1="382.7" y1="365.1" x2="382.7" y2="371.3" stroke="#3f424a" stroke-width="0.6"/>
<circle cx="390.4" cy="368.2" r="3.1" stroke="#3f424a" stroke-width="1.0" fill="#fff"/>
<line x1="387.3" y1="368.2" x2="393.5" y2="368.2" stroke="#3f424a" stroke-width="0.6"/>
<line x1="390.4" y1="365.1" x2="390.4" y2="371.3" stroke="#3f424a" stroke-width="0.6"/>
<circle cx="382.7" cy="376.2" r="3.1" stroke="#3f424a" stroke-width="1.0" fill="#fff"/>
<line x1="379.6" y1="376.2" x2="385.8" y2="376.2" stroke="#3f424a" stroke-width="0.6"/>
<line x1="382.7" y1="373.1" x2="382.7" y2="379.3" stroke="#3f424a" stroke-width="0.6"/>
<circle cx="390.4" cy="376.2" r="3.1" stroke="#3f424a" stroke-width="1.0" fill="#fff"/>
<line x1="387.3" y1="376.2" x2="393.5" y2="376.2" stroke="#3f424a" stroke-width="0.6"/>
<line x1="390.4" y1="373.1" x2="390.4" y2="379.3" stroke="#3f424a" stroke-width="0.6"/>
<line x1="399.0" y1="422.3" x2="417.7" y2="422.3" stroke="#2b303b" stroke-width="2.0" stroke-linecap="butt"/>
<line x1="530.0" y1="422.3" x2="549.0" y2="422.3" stroke="#2b303b" stroke-width="2.0" stroke-linecap="butt"/>
<path d="M417.3 476.8 A22.2 22.2 0 0 1 398.8 487.9" stroke="#3f424a" stroke-width="1.1" fill="none" />
<line x1="398.6" y1="464.8" x2="417.3" y2="476.8" stroke="#2b303b" stroke-width="2.5" stroke-linecap="round"/>
<line x1="398.4" y1="487.9" x2="398.4" y2="503.8" stroke="#2b303b" stroke-width="3.6" stroke-linecap="butt"/>
<line x1="396.6" y1="502.0" x2="430.6" y2="502.0" stroke="#2b303b" stroke-width="3.6" stroke-linecap="butt"/>
<rect x="430.6" y="499.5" width="86.0" height="5.0" fill="#fff" stroke="none"/>
<line x1="430.6" y1="499.5" x2="516.6" y2="499.5" stroke="#4a4d55" stroke-width="0.85"/>
<line x1="430.6" y1="502.0" x2="516.6" y2="502.0" stroke="#4a4d55" stroke-width="0.85"/>
<line x1="430.6" y1="504.5" x2="516.6" y2="504.5" stroke="#4a4d55" stroke-width="0.85"/>
<line x1="430.6" y1="498.9" x2="430.6" y2="505.1" stroke="#4a4d55" stroke-width="1.15"/>
<line x1="516.6" y1="498.9" x2="516.6" y2="505.1" stroke="#4a4d55" stroke-width="1.15"/>
<line x1="459.0" y1="498.9" x2="459.0" y2="505.1" stroke="#4a4d55" stroke-width="1.15"/>
<line x1="487.7" y1="498.9" x2="487.7" y2="505.1" stroke="#4a4d55" stroke-width="1.15"/>
<line x1="516.6" y1="502.0" x2="551.1" y2="502.0" stroke="#2b303b" stroke-width="3.6" stroke-linecap="butt"/>
<line x1="548.9" y1="281.3" x2="548.9" y2="435.0" stroke="#2b303b" stroke-width="2.5" stroke-linecap="butt"/>
<line x1="549.4" y1="433.4" x2="549.4" y2="503.8" stroke="#2b303b" stroke-width="3.6" stroke-linecap="butt"/>
<line x1="539.6" y1="282.3" x2="539.6" y2="306.6" stroke="#5a5c62" stroke-width="0.9"/>
<rect x="522.9" y="306.5" width="25.6" height="91.2" rx="0" stroke="#5a5c62" stroke-width="0.9" fill="none"/>
<rect x="522.9" y="331.7" width="13.0" height="41.0" rx="0" stroke="#5a5c62" stroke-width="0.9" fill="none"/>
<line x1="539.4" y1="397.7" x2="539.4" y2="422.4" stroke="#5a5c62" stroke-width="0.9"/>
<line x1="547.6" y1="435.1" x2="594.0" y2="435.1" stroke="#2b303b" stroke-width="3.6" stroke-linecap="butt"/>
<rect x="594.0" y="432.6" width="77.4" height="5.0" fill="#fff" stroke="none"/>
<line x1="594.0" y1="432.6" x2="671.4" y2="432.6" stroke="#4a4d55" stroke-width="0.85"/>
<line x1="594.0" y1="435.1" x2="671.4" y2="435.1" stroke="#4a4d55" stroke-width="0.85"/>
<line x1="594.0" y1="437.6" x2="671.4" y2="437.6" stroke="#4a4d55" stroke-width="0.85"/>
<line x1="594.0" y1="432.0" x2="594.0" y2="438.2" stroke="#4a4d55" stroke-width="1.15"/>
<line x1="671.4" y1="432.0" x2="671.4" y2="438.2" stroke="#4a4d55" stroke-width="1.15"/>
<line x1="633.0" y1="432.0" x2="633.0" y2="438.2" stroke="#4a4d55" stroke-width="1.15"/>
<line x1="671.4" y1="435.1" x2="693.9" y2="435.1" stroke="#2b303b" stroke-width="3.6" stroke-linecap="butt"/>
<line x1="692.0" y1="281.3" x2="692.0" y2="436.9" stroke="#2b303b" stroke-width="3.6" stroke-linecap="butt"/>
<line x1="513.6" y1="282.5" x2="559.5" y2="282.5" stroke="#2b303b" stroke-width="2.5" stroke-linecap="butt"/>
<path d="M570.0 301.7 A22.8 22.8 0 0 1 559.5 284.0" stroke="#3f424a" stroke-width="1.1" fill="none" />
<line x1="582.3" y1="282.5" x2="570.0" y2="301.7" stroke="#2b303b" stroke-width="2.5" stroke-linecap="round"/>
<line x1="581.0" y1="282.5" x2="692.0" y2="282.5" stroke="#2b303b" stroke-width="2.5" stroke-linecap="butt"/>
<line x1="690.3" y1="283.2" x2="736.5" y2="283.2" stroke="#2b303b" stroke-width="3.7" stroke-linecap="butt"/>
<line x1="537.6" y1="164.0" x2="537.6" y2="245.2" stroke="#2b303b" stroke-width="2.4" stroke-linecap="butt"/>
<line x1="537.6" y1="225.0" x2="581.0" y2="225.0" stroke="#2b303b" stroke-width="2.4" stroke-linecap="butt"/>
<path d="M591.5 205.8 A22.9 22.9 0 0 0 581.0 225.0" stroke="#3f424a" stroke-width="1.1" fill="none" />
<line x1="604.0" y1="225.0" x2="591.5" y2="205.8" stroke="#2b303b" stroke-width="2.5" stroke-linecap="round"/>
<line x1="603.0" y1="225.0" x2="614.3" y2="225.0" stroke="#2b303b" stroke-width="2.4" stroke-linecap="butt"/>
<line x1="613.0" y1="164.0" x2="613.0" y2="231.7" stroke="#2b303b" stroke-width="2.4" stroke-linecap="butt"/>
<path d="M632.3 244.2 A23.0 23.0 0 0 1 613.0 254.5" stroke="#3f424a" stroke-width="1.1" fill="none" />
<line x1="613.0" y1="231.7" x2="632.3" y2="244.2" stroke="#2b303b" stroke-width="2.5" stroke-linecap="round"/>
<line x1="613.0" y1="254.5" x2="613.0" y2="282.3" stroke="#2b303b" stroke-width="2.4" stroke-linecap="butt"/>
<line x1="575.3" y1="225.0" x2="575.3" y2="245.2" stroke="#2b303b" stroke-width="2.4" stroke-linecap="butt"/>
<line x1="536.3" y1="244.0" x2="542.0" y2="244.0" stroke="#2b303b" stroke-width="2.4" stroke-linecap="butt"/>
<line x1="570.3" y1="244.0" x2="576.6" y2="244.0" stroke="#2b303b" stroke-width="2.4" stroke-linecap="butt"/>
<line x1="542.0" y1="244.0" x2="570.3" y2="244.0" stroke="#2b303b" stroke-width="1.3" stroke-dasharray="2.6 2.1"/>
<rect x="539.2" y="164.0" width="26.3" height="26.5" rx="0" stroke="#3f424a" stroke-width="0.8" fill="#c3c5c9"/>
<rect x="541.2" y="166.2" width="22.2" height="22.2" rx="0" stroke="#3f424a" stroke-width="0.8" fill="#fff"/>
<line x1="541.2" y1="166.2" x2="563.4" y2="188.4" stroke="#3f424a" stroke-width="0.9"/>
<line x1="563.4" y1="166.2" x2="541.2" y2="188.4" stroke="#3f424a" stroke-width="0.9"/>
<circle cx="552.2" cy="177.2" r="1.6" stroke="#3f424a" stroke-width="0.8" fill="#fff"/>
<line x1="554.2" y1="190.5" x2="554.2" y2="224.0" stroke="#3f424a" stroke-width="0.8"/>
<ellipse cx="548.2" cy="207.0" rx="4.4" ry="6.6" stroke="#3f424a" stroke-width="0.8" fill="none"/>
<line x1="540.6" y1="207.0" x2="548.5" y2="207.0" stroke="#3f424a" stroke-width="0.8"/>
<circle cx="545.3" cy="207.0" r="1.3" stroke="#3f424a" stroke-width="0.6" fill="#fff"/>
<rect x="586.2" y="163.6" width="15.2" height="5.6" rx="2.6" stroke="#3f424a" stroke-width="0.9" fill="#fff"/>
<ellipse cx="593.8" cy="177.6" rx="6.2" ry="10.0" stroke="#3f424a" stroke-width="0.9" fill="#fff"/>
<ellipse cx="593.8" cy="178.7" rx="5.0" ry="8.1" stroke="#666" stroke-width="0.6" fill="none"/>
<circle cx="594.0" cy="165.5" r="0.5" stroke="#3f424a" stroke-width="0.3" fill="#3f424a"/>
<line x1="613.0" y1="261.8" x2="620.6" y2="261.8" stroke="#2b303b" stroke-width="2.4" stroke-linecap="butt"/>
<line x1="620.6" y1="261.8" x2="664.3" y2="261.8" stroke="#2b303b" stroke-width="1.3" stroke-dasharray="2.6 2.1"/>
<line x1="664.3" y1="261.8" x2="711.4" y2="261.8" stroke="#2b303b" stroke-width="2.4" stroke-linecap="butt"/>
<line x1="711.4" y1="261.8" x2="733.0" y2="261.8" stroke="#2b303b" stroke-width="1.3" stroke-dasharray="2.6 2.1"/>
<line x1="671.0" y1="261.8" x2="671.0" y2="282.3" stroke="#2b303b" stroke-width="2.4" stroke-linecap="butt"/>
<line x1="708.2" y1="261.8" x2="708.2" y2="282.3" stroke="#2b303b" stroke-width="2.4" stroke-linecap="butt"/>
<line x1="598.8" y1="282.3" x2="598.8" y2="305.3" stroke="#2b303b" stroke-width="2.4" stroke-linecap="butt"/>
<line x1="597.6" y1="304.1" x2="610.0" y2="304.1" stroke="#2b303b" stroke-width="2.4" stroke-linecap="butt"/>
<line x1="610.0" y1="304.1" x2="679.6" y2="304.1" stroke="#2b303b" stroke-width="1.3" stroke-dasharray="2.6 2.1"/>
<line x1="679.6" y1="304.1" x2="692.1" y2="304.1" stroke="#2b303b" stroke-width="2.4" stroke-linecap="butt"/>
<line x1="254.6" y1="437.0" x2="254.6" y2="522.4" stroke="#3f424a" stroke-width="1.15"/>
<line x1="254.0" y1="522.4" x2="397.8" y2="522.4" stroke="#3f424a" stroke-width="1.15"/>
<line x1="397.2" y1="503.6" x2="397.2" y2="522.4" stroke="#3f424a" stroke-width="1.15"/>
<line x1="353.5" y1="437.0" x2="353.5" y2="522.4" stroke="#3f424a" stroke-width="1.15"/>
<line x1="266.0" y1="437.5" x2="266.0" y2="473.4" stroke="#3f424a" stroke-width="1.1"/>
<line x1="276.9" y1="437.5" x2="276.9" y2="473.4" stroke="#3f424a" stroke-width="1.1"/>
<line x1="254.6" y1="473.4" x2="277.4" y2="473.4" stroke="#3f424a" stroke-width="1.1"/>
<line x1="247.0" y1="454.8" x2="282.0" y2="454.8" stroke="#2b303b" stroke-width="1.0"/>
<path d="M281.5 452 L286 454.8 L281.5 457.6 Z" stroke="#2b303b" stroke-width="0.3" fill="#2b303b" />
<text x="232.9" y="457.0" font-size="9.4" fill="#383b44" textLength="12.1" lengthAdjust="spacingAndGlyphs" font-weight="normal">Up</text>
<line x1="334.0" y1="453.9" x2="364.0" y2="453.9" stroke="#2b303b" stroke-width="1.0"/>
<path d="M363.5 451.1 L368 453.9 L363.5 456.7 Z" stroke="#2b303b" stroke-width="0.3" fill="#2b303b" />
<text x="319.8" y="456.0" font-size="9.4" fill="#383b44" textLength="12.2" lengthAdjust="spacingAndGlyphs" font-weight="normal">Up</text>
<text x="65.8" y="261.0" font-size="13.1" fill="#383b44" textLength="44.7" lengthAdjust="spacingAndGlyphs" font-weight="normal">Single</text>
<text x="59.6" y="278.0" font-size="13.1" fill="#383b44" textLength="58.2" lengthAdjust="spacingAndGlyphs" font-weight="normal">Lock Up</text>
<text x="62.7" y="295.0" font-size="13.1" fill="#383b44" textLength="51.9" lengthAdjust="spacingAndGlyphs" font-weight="normal">Garage</text>
<text x="60.5" y="312.0" font-size="13.1" fill="#383b44" textLength="55.8" lengthAdjust="spacingAndGlyphs" font-weight="normal">6.4 x 3.4</text>
<text x="164.3" y="261.0" font-size="13.1" fill="#383b44" textLength="72.9" lengthAdjust="spacingAndGlyphs" font-weight="normal">Bedroom/</text>
<text x="183.0" y="278.0" font-size="13.1" fill="#383b44" textLength="37.0" lengthAdjust="spacingAndGlyphs" font-weight="normal">Multi</text>
<text x="171.4" y="295.0" font-size="13.1" fill="#383b44" textLength="59.8" lengthAdjust="spacingAndGlyphs" font-weight="normal">Purpose</text>
<text x="173.0" y="312.0" font-size="13.1" fill="#383b44" textLength="56.3" lengthAdjust="spacingAndGlyphs" font-weight="normal">6.5 x 3.0</text>
<text x="344.4" y="176.5" font-size="10.1" fill="#383b44" textLength="23.1" lengthAdjust="spacingAndGlyphs" font-weight="normal">WM</text>
<text x="351.4" y="199.5" font-size="13.1" fill="#383b44" textLength="33.5" lengthAdjust="spacingAndGlyphs" font-weight="normal">L’dry</text>
<text x="407.1" y="230.7" font-size="10.6" fill="#383b44" textLength="8.1" lengthAdjust="spacingAndGlyphs" font-weight="normal">C</text>
<text x="432.3" y="229.4" font-size="8.6" fill="#383b44" textLength="11.4" lengthAdjust="spacingAndGlyphs" font-weight="normal" transform="rotate(-90 438.0 227.3)">AC</text>
<text x="321.2" y="263.8" font-size="10.4" fill="#383b44" textLength="7.6" lengthAdjust="spacingAndGlyphs" font-weight="normal">P</text>
<text x="465.0" y="218.8" font-size="13.1" fill="#383b44" textLength="45.8" lengthAdjust="spacingAndGlyphs" font-weight="normal">Dining</text>
<text x="461.0" y="235.1" font-size="13.1" fill="#383b44" textLength="53.5" lengthAdjust="spacingAndGlyphs" font-weight="normal">3.7 x 3.6</text>
<text x="571.8" y="201.0" font-size="13.1" fill="#383b44" textLength="33.8" lengthAdjust="spacingAndGlyphs" font-weight="normal">Bath</text>
<text x="552.8" y="237.9" font-size="10.4" fill="#383b44" textLength="7.7" lengthAdjust="spacingAndGlyphs" font-weight="normal">C</text>
<text x="640.4" y="203.7" font-size="13.1" fill="#383b44" textLength="66.3" lengthAdjust="spacingAndGlyphs" font-weight="normal">Bedroom</text>
<text x="647.9" y="220.7" font-size="13.1" fill="#383b44" textLength="50.9" lengthAdjust="spacingAndGlyphs" font-weight="normal">3.3 x 3.1</text>
<text x="632.3" y="275.9" font-size="10.4" fill="#383b44" textLength="20.2" lengthAdjust="spacingAndGlyphs" font-weight="normal">BIR</text>
<text x="711.8" y="275.9" font-size="10.4" fill="#383b44" textLength="19.8" lengthAdjust="spacingAndGlyphs" font-weight="normal">BIR</text>
<text x="637.7" y="298.4" font-size="10.4" fill="#383b44" textLength="20.0" lengthAdjust="spacingAndGlyphs" font-weight="normal">BIR</text>
<text x="611.3" y="352.6" font-size="13.1" fill="#383b44" textLength="34.6" lengthAdjust="spacingAndGlyphs" font-weight="normal">Main</text>
<text x="595.5" y="369.6" font-size="13.1" fill="#383b44" textLength="66.5" lengthAdjust="spacingAndGlyphs" font-weight="normal">Bedroom</text>
<text x="600.7" y="386.6" font-size="13.1" fill="#383b44" textLength="55.3" lengthAdjust="spacingAndGlyphs" font-weight="normal">4.0 x 3.7</text>
<text x="444.8" y="354.4" font-size="13.1" fill="#383b44" textLength="42.4" lengthAdjust="spacingAndGlyphs" font-weight="normal">Living</text>
<text x="438.9" y="371.4" font-size="13.1" fill="#383b44" textLength="54.9" lengthAdjust="spacingAndGlyphs" font-weight="normal">3.8 x 3.6</text>
<text x="511.1" y="354.5" font-size="8.8" fill="#383b44" textLength="12.0" lengthAdjust="spacingAndGlyphs" font-weight="normal" transform="rotate(90 517.0 351.9)">FP</text>
<text x="302.4" y="373.4" font-size="13.1" fill="#383b44" textLength="62.2" lengthAdjust="spacingAndGlyphs" font-weight="normal">Kitchen/</text>
<text x="313.0" y="390.3" font-size="13.1" fill="#383b44" textLength="41.1" lengthAdjust="spacingAndGlyphs" font-weight="normal">Meals</text>
<text x="306.7" y="407.2" font-size="13.1" fill="#383b44" textLength="53.6" lengthAdjust="spacingAndGlyphs" font-weight="normal">2.5 x 2.3</text>
<text x="284.8" y="388.0" font-size="8.9" fill="#383b44" textLength="15.7" lengthAdjust="spacingAndGlyphs" font-weight="normal" transform="rotate(-90 292.6 384.8)">DW</text>
<text x="379.8" y="422.5" font-size="11" fill="#383b44" textLength="6.9" lengthAdjust="spacingAndGlyphs" font-weight="normal">F</text>
<text x="449.5" y="454.2" font-size="13.1" fill="#383b44" textLength="38.2" lengthAdjust="spacingAndGlyphs" font-weight="normal">Entry</text>
<text x="441.2" y="471.2" font-size="13.1" fill="#383b44" textLength="54.7" lengthAdjust="spacingAndGlyphs" font-weight="normal">4.3 x 2.2</text>
<text x="286.9" y="492.9" font-size="13.1" fill="#383b44" textLength="41.3" lengthAdjust="spacingAndGlyphs" font-weight="normal">Porch</text>
<text x="111.0" y="1033.7" font-size="7.5" fill="#44464e" textLength="249.8" lengthAdjust="spacingAndGlyphs" font-weight="normal">All information is approximate and for illustrative purposes only.</text>
<text x="363.4" y="1033.7" font-size="7.5" fill="#44464e" textLength="289.5" lengthAdjust="spacingAndGlyphs" font-weight="normal">WHITEFOX Real Estate provides no guarantees or warranties on accuracy.</text>
<text x="111.0" y="1042.8" font-size="7.5" fill="#44464e" textLength="269.2" lengthAdjust="spacingAndGlyphs" font-weight="normal">Interested parties must conduct their own enquiries and verification.</text>
<text x="383.4" y="1042.8" font-size="7.5" fill="#44464e" textLength="266.8" lengthAdjust="spacingAndGlyphs" font-weight="normal">WHITEFOX Real Estate disclaims liability for any errors or omissions.</text>
</svg>
</body></html>
